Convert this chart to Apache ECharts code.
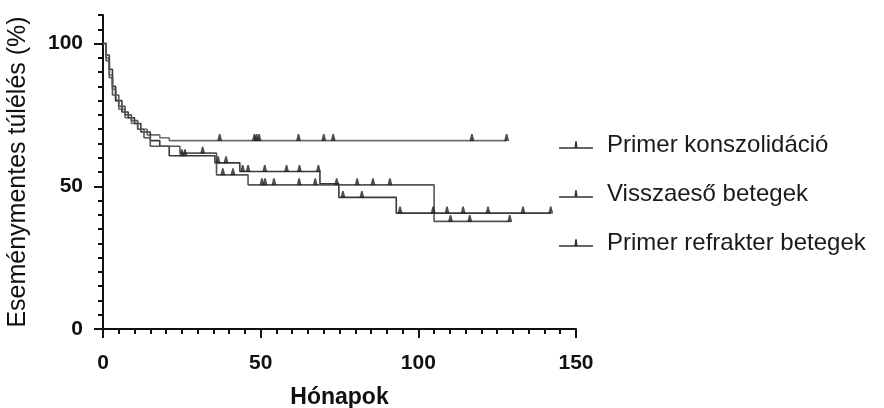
<!DOCTYPE html>
<html>
<head>
<meta charset="utf-8">
<script src="https://cdn.jsdelivr.net/npm/echarts@6/dist/echarts.min.js"></script>
<style>
  html, body { margin: 0; padding: 0; background: #fff; }
  #chart { width: 884px; height: 408px; }
</style>
</head>
<body>
<div id="chart"></div>
<script>
  // Kaplan-Meier görbék (hónap, túlélés %)
  var seriesNames = ['Primer konszolidáció', 'Visszaeső betegek', 'Primer refrakter betegek'];
  var seriesColors = ['#6e6e6e', '#3a3a3a', '#555555'];

  var konszTimes = [0, 1, 2, 3, 4, 5, 7, 9, 11, 14, 18, 21, 128];
  var konszSurv  = [100, 95, 89, 84, 80, 77, 74, 72, 70, 68, 67, 66, 66];
  var konszCensor = [37, 48, 48.7, 49.5, 62, 70, 73, 117, 128];

  var visszaTimes = [0, 1, 2, 3, 4, 6, 8, 10, 12, 15, 18, 21, 35.5, 43.4, 68.8, 74.8, 93, 142];
  var visszaSurv  = [100, 96, 91, 85, 80, 76, 74, 72, 69, 66, 64, 60.7, 58.2, 55.2, 50.9, 46.1, 40.6, 40.6];
  var visszaCensor = [25, 26, 36.5, 39, 44.3, 46, 51.3, 58.2, 62.3, 68.3, 76.1, 82.1, 94.2, 104.7, 109.1, 114.2, 122.1, 133.2, 142];

  var refrTimes = [0, 1, 2, 3, 5, 7, 9, 11, 13, 15, 24.4, 36, 46, 105, 129];
  var refrSurv  = [100, 94, 88, 82, 78, 75, 73, 70, 67, 64, 61.6, 54, 50.5, 37.7, 37.7];
  var refrCensor = [31.6, 38, 41.2, 50.4, 51.4, 54.2, 62.2, 67.3, 74.1, 80.6, 85.6, 91, 110.2, 116.3, 129];

  var curves = [
    { t: konszTimes, s: konszSurv, c: konszCensor },
    { t: visszaTimes, s: visszaSurv, c: visszaCensor },
    { t: refrTimes, s: refrSurv, c: refrCensor }
  ];

  function survAt(curve, x) {
    var v = curve.s[0];
    for (var i = 0; i < curve.t.length; i++) {
      if (curve.t[i] <= x) v = curve.s[i];
    }
    return v;
  }

  var font = "'Liberation Sans', Arial, sans-serif";
  var tickMark = 'path://M0,10 L1.4,0 L2.6,0 L4,10 Z';
  var legendIcon = 'path://M0,9 L34,9 L34,10.5 L0,10.5 Z M16.2,3 L17.8,3 L18.6,10 L15.4,10 Z';

  var series = [];
  curves.forEach(function (cv, i) {
    series.push({
      name: seriesNames[i],
      type: 'line',
      step: 'end',
      symbol: 'none',
      data: cv.t.map(function (t, k) { return [t, cv.s[k]]; }),
      lineStyle: { color: seriesColors[i], width: 1.6 },
      itemStyle: { color: seriesColors[i] },
      z: 3
    });
    series.push({
      name: seriesNames[i],
      type: 'scatter',
      symbol: tickMark,
      symbolSize: [5, 7],
      symbolOffset: [0, -3],
      data: cv.c.map(function (t) { return [t, survAt(cv, t)]; }),
      itemStyle: { color: '#222' },
      z: 4
    });
  });

  var chart = echarts.init(document.getElementById('chart'));
  chart.setOption({
    animation: false,
    backgroundColor: '#fff',
    textStyle: { fontFamily: font },
    grid: { left: 103, right: 308, top: 15, bottom: 79, outerBoundsMode: 'none' },
    legend: {
      data: seriesNames.map(function (n) { return { name: n, icon: legendIcon }; }),
      orient: 'vertical',
      left: 554,
      top: 128,
      itemWidth: 34,
      itemHeight: 10,
      itemGap: 25,
      selectedMode: false,
      itemStyle: { color: '#333' },
      textStyle: { fontSize: 24, color: '#1a1a1a', fontFamily: font, padding: [0, 0, 0, 9] }
    },
    xAxis: [{
      type: 'value',
      min: 0,
      max: 150,
      interval: 50,
      name: 'Hónapok',
      nameLocation: 'middle',
      nameGap: 57,
      nameTextStyle: { fontSize: 23, fontWeight: 'bold', color: '#111' },
      axisLine: { lineStyle: { color: '#111', width: 2 } },
      axisTick: { length: 9, lineStyle: { color: '#111', width: 2 } },
      minorTick: { show: true, splitNumber: 10, length: 5, lineStyle: { color: '#111', width: 2 } },
      axisLabel: { fontSize: 21, fontWeight: 'bold', color: '#111', margin: 24 },
      splitLine: { show: false }
    }],
    yAxis: [{
      type: 'value',
      min: 0,
      max: 110,
      interval: 5,
      name: 'Eseménymentes túlélés (%)',
      nameLocation: 'middle',
      nameGap: 72,
      nameTextStyle: { fontSize: 25, color: '#111' },
      axisLine: { lineStyle: { color: '#111', width: 2 } },
      axisTick: { length: 9, customValues: [0, 50, 100], lineStyle: { color: '#111', width: 2 } },
      axisLabel: { fontSize: 21, fontWeight: 'bold', color: '#111', margin: 20, customValues: [0, 50, 100] },
      splitLine: { show: false }
    }, {
      type: 'value',
      min: 0,
      max: 110,
      interval: 5,
      position: 'left',
      axisLine: { show: false },
      axisTick: { length: 5, lineStyle: { color: '#111', width: 2 } },
      axisLabel: { show: false },
      splitLine: { show: false }
    }],
    series: series
  });
</script>
</body>
</html>
